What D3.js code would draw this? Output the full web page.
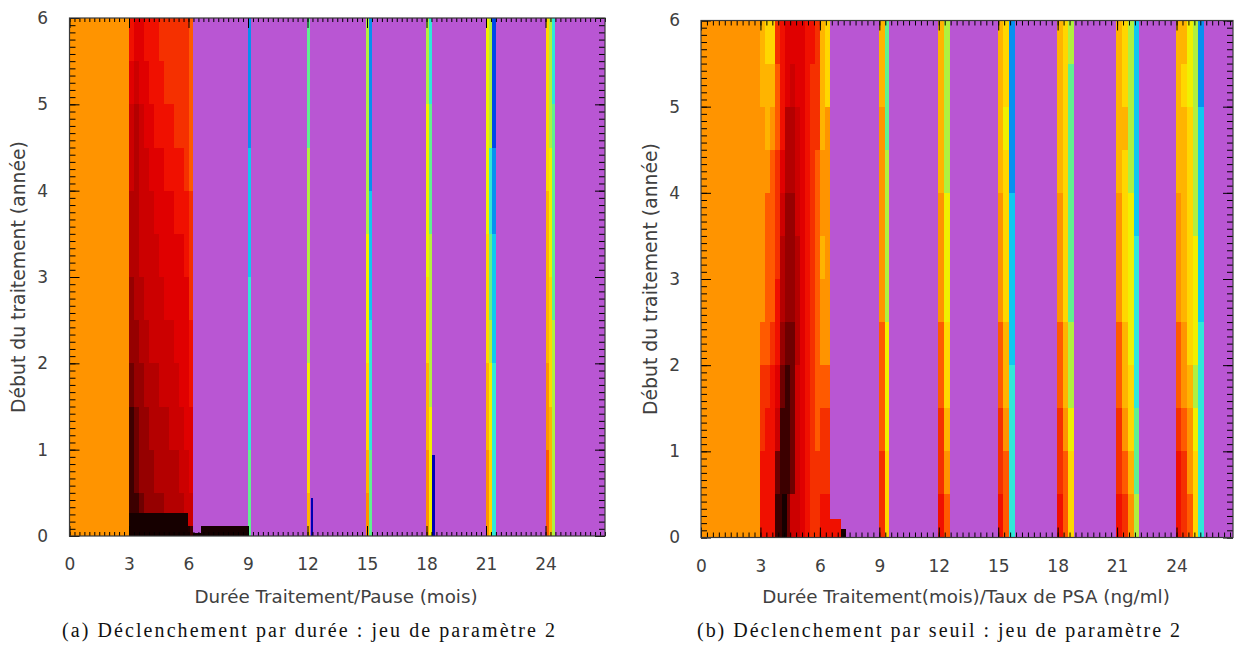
<!DOCTYPE html>
<html><head><meta charset="utf-8">
<script src="https://cdn.jsdelivr.net/npm/d3@7"></script>
<style>body{margin:0;background:#fff}svg{display:block}</style>
</head><body>
<svg id="chart" width="1234" height="648"></svg>
<script>
// ---------- colour levels (index = value level) ----------
const levelColors = ["#160000","#3c0000","#6e0000","#960000","#b40000","#cc0000","#e00000","#f01000","#f53000","#ff5a00","#ff9400","#ffb400","#ffd700","#f0f000","#b0f040","#60f090","#30e8d8","#10c8f0","#0890f0","#0048e8","#0000b4"];
const emptyColor = "#b956d3";

// ---------- ticks ----------
const xMajorTicks = [0,3,6,9,12,15,18,21,24];
const yMajorTicks = [0,1,2,3,4,5,6];

// ---------- texts ----------
const yTitle = "Début du traitement (année)";
const xTitleA = "Durée Traitement/Pause (mois)";
const xTitleB = "Durée Traitement(mois)/Taux de PSA (ng/ml)";
const captionA = "(a) Déclenchement par durée : jeu de paramètre 2";
const captionB = "(b) Déclenchement par seuil : jeu de paramètre 2";

// ---------- panel (a) data : values listed from top (6 ans) to bottom (0) ----------
const leftOrange = {x0:0, x1:3, values:[10]};
const leftRedStart = 3, leftRedStep = 0.25;
const leftRedRows = [
  [7,6,6,7,7,7,8,8,8,8,8,8,9],
  [6,5,6,6,7,7,7,8,8,8,8,8,9],
  [5,4,5,6,6,7,7,7,7,8,8,8,9],
  [5,4,5,5,6,6,6,7,7,7,7,8,9],
  [4,4,5,5,5,6,6,6,6,7,7,7,8],
  [4,4,5,5,5,5,6,6,6,6,6,7,8],
  [3,4,4,5,5,5,5,6,6,6,6,6,8],
  [3,3,4,4,5,5,5,5,5,6,6,6,7],
  [2,3,3,4,4,4,5,5,5,5,6,6,7],
  [1,2,3,3,4,4,4,4,5,5,5,6,6],
  [1,2,3,3,3,4,4,4,4,4,5,5,6],
  [1,1,2,3,3,3,3,4,4,4,4,5,5]
];
const leftStripes = [
  {x0:9.0,  x1:9.15,  values:[18,18,18,17,17,17,16,16,16,16,15,15]},
  {x0:11.98,x1:12.15, values:[15,15,15,14,14,14,14,14,13,13,12,11]},
  {x0:14.95,x1:15.1,  values:[14,14,14,14,14,13,13,13,12,12,11,10]},
  {x0:15.1, x1:15.27, values:[18,18,18,18,17,17,17,16,16,16,15,15]},
  {x0:17.96,x1:18.13, values:[14,14,13,13,13,13,12,12,11,11,10,10]},
  {x0:18.13,x1:18.3,  values:[16,16,15,15,15,14,14,14,14,13,13,13]},
  {x0:20.98,x1:21.15, values:[13,13,13,13,13,12,12,12,11,11,10,10]},
  {x0:21.15,x1:21.32, values:[14,14,14,16,16,15,15,14,13,13,12,12]},
  {x0:21.32,x1:21.48, values:[19,19,19,18,18,17,17,17,16,16,16,16]},
  {x0:24.0, x1:24.17, values:[12,12,12,12,11,11,11,11,10,10,9,9]},
  {x0:24.17,x1:24.33, values:[14,14,14,13,13,13,12,12,12,11,11,11]},
  {x0:24.33,x1:24.5,  values:[16,16,15,15,15,15,15,14,14,14,14,14]}
];
// [x0, x1, y0, y1, level]
const leftPatches = [
  [3.0,5.95,0,0.27,0],
  [5.95,6.25,0,0.12,1],
  [6.25,6.63,0,0.03,0],
  [6.63,9.0,0,0.12,0],
  [12.17,12.27,0,0.44,20],
  [18.3,18.42,0,0.94,20]
];

// ---------- panel (b) data ----------
const rightOrange = {x0:0, x1:3, values:[10]};
const rightRedStart = 3, rightRedStep = 0.25;
const rightRedRows = [
  [11,12,12,8,7,6,6,6,6,7,7,8,11,12],
  [11,11,11,9,7,6,5,6,6,7,8,8,11,12],
  [10,11,10,9,7,4,4,5,6,7,8,8,11,10],
  [10,10,9,8,6,4,4,5,6,7,8,9,10,10],
  [10,9,9,8,5,3,3,5,6,7,8,9,10,10],
  [10,9,9,8,4,3,3,4,6,7,8,9,11,10],
  [10,9,9,7,4,3,3,4,6,7,8,9,10,10],
  [9,9,8,7,3,2,2,4,6,7,8,9,10,10],
  [8,8,7,6,2,1,2,5,6,7,8,9,9,9],
  [8,7,7,5,1,1,2,5,6,7,8,9,8,8],
  [7,7,7,2,1,1,2,5,6,7,8,8,8,8],
  [7,7,7,1,1,2,5,5,6,7,8,8,7,7]
];
const rightStripes = [
  {x0:9.0,  x1:9.28,  values:[11,11,10,10,10,10,10,9,9,9,8,8]},
  {x0:9.28, x1:9.5,   values:[15,15,15,14,14,14,14,13,13,13,12,12]},
  {x0:11.98,x1:12.26, values:[11,11,11,11,10,10,10,9,9,8,8,7]},
  {x0:12.26,x1:12.57, values:[14,14,14,14,13,13,13,12,12,11,10,9]},
  {x0:14.97,x1:15.26, values:[11,11,11,11,10,10,10,9,9,8,8,7]},
  {x0:15.26,x1:15.56, values:[12,12,13,12,12,12,12,11,11,10,9,9]},
  {x0:15.56,x1:15.84, values:[18,18,18,18,17,17,17,17,16,16,16,16]},
  {x0:17.95,x1:18.25, values:[11,11,11,11,10,10,10,9,9,8,8,7]},
  {x0:18.25,x1:18.53, values:[12,12,12,12,12,12,12,11,11,10,9,9]},
  {x0:18.53,x1:18.83, values:[14,15,15,15,15,15,15,14,14,13,12,12]},
  {x0:20.97,x1:21.26, values:[11,11,11,11,10,10,10,9,9,8,8,7]},
  {x0:21.26,x1:21.55, values:[12,12,11,12,12,12,12,11,11,10,9,8]},
  {x0:21.55,x1:21.83, values:[14,14,14,14,13,13,13,13,12,12,11,10]},
  {x0:21.83,x1:22.11, values:[17,17,17,17,17,16,16,16,16,15,15,14]},
  {x0:23.97,x1:24.25, values:[11,11,11,11,10,10,10,9,9,8,7,7]},
  {x0:24.25,x1:24.53, values:[11,12,11,11,11,11,11,10,10,9,8,8]},
  {x0:24.53,x1:24.81, values:[13,13,12,12,12,12,12,12,11,10,10,9]},
  {x0:24.81,x1:25.1,  values:[14,14,14,14,14,13,13,13,14,13,12,12]},
  {x0:25.1, x1:25.38, values:[18,18,17,17,17,17,17,16,16,16,16,16]}
];
const rightPatches = [
  [6.5,7.05,0,0.21,7],
  [7.05,7.3,0,0.1,0],
  [4.07,4.35,0,0.5,0]
];

// ---------- drawing ----------
const svg = d3.select("#chart");
const textColor = "#404040";
const sansFont = "'DejaVu Sans', sans-serif";

function matrixToColumns(rows, start, step){
  const nCols = rows[0].length;
  return d3.range(nCols).map(c => ({
    x0: start + c*step, x1: start + (c+1)*step,
    values: rows.map(r => r[c])
  }));
}

function drawPanel(cfg){
  const x = d3.scaleLinear().domain([0, cfg.xMax]).range([cfg.left, cfg.right]);
  const y = d3.scaleLinear().domain([0, 6]).range([cfg.bottom, cfg.top]);
  const g = svg.append("g");
  const cells = g.append("g").attr("shape-rendering","crispEdges");

  cells.append("rect")
    .attr("x", x(0)).attr("y", y(6))
    .attr("width", x(cfg.xMax)-x(0)).attr("height", y(0)-y(6))
    .attr("fill", emptyColor);

  const columns = [cfg.orange].concat(matrixToColumns(cfg.redRows, cfg.redStart, cfg.redStep), cfg.stripes);
  const rects = [];
  columns.forEach(col => {
    const n = col.values.length, h = 6/n;
    col.values.forEach((v, i) => {
      rects.push({x0: col.x0, x1: col.x1, y1: 6 - i*h, y0: 6 - (i+1)*h, v});
    });
  });
  cfg.patches.forEach(p => rects.push({x0:p[0], x1:p[1], y0:p[2], y1:p[3], v:p[4]}));

  cells.selectAll("rect.cell").data(rects).join("rect")
    .attr("class","cell")
    .attr("x", d => x(d.x0))
    .attr("y", d => y(d.y1))
    .attr("width", d => x(d.x1) - x(d.x0))
    .attr("height", d => y(d.y0) - y(d.y1))
    .attr("fill", d => levelColors[d.v]);

  // axes: ticks inward on all 4 sides
  function styleAxis(sel){
    sel.select(".domain").remove();
    sel.selectAll(".tick line").attr("stroke","#000").attr("stroke-width",1);
    sel.selectAll("text").attr("fill", textColor).attr("font-family", sansFont).attr("font-size", 17);
  }
  const xMinor = d3.range(0, cfg.xMax + 1e-6, cfg.xMinorStep);
  const yMinor = d3.range(0, 73).map(i => i/12);

  g.append("g").attr("transform", `translate(0,${cfg.bottom})`)
    .call(d3.axisBottom(x).tickValues(xMinor).tickSize(-cfg.xMinorLen).tickFormat("")).call(styleAxis);
  g.append("g").attr("transform", `translate(0,${cfg.top})`)
    .call(d3.axisTop(x).tickValues(xMinor).tickSize(-cfg.xMinorLen).tickFormat("")).call(styleAxis);
  g.append("g").attr("transform", `translate(0,${cfg.bottom})`)
    .call(d3.axisBottom(x).tickValues(xMajorTicks).tickSize(-10).tickPadding(22).tickFormat(d3.format("d"))).call(styleAxis);
  g.append("g").attr("transform", `translate(0,${cfg.top})`)
    .call(d3.axisTop(x).tickValues(xMajorTicks).tickSize(-10).tickFormat("")).call(styleAxis);

  g.append("g").attr("transform", `translate(${cfg.left},0)`)
    .call(d3.axisLeft(y).tickValues(yMinor).tickSize(-6).tickFormat("")).call(styleAxis);
  g.append("g").attr("transform", `translate(${cfg.right},0)`)
    .call(d3.axisRight(y).tickValues(yMinor).tickSize(-6).tickFormat("")).call(styleAxis);
  g.append("g").attr("transform", `translate(${cfg.left},0)`)
    .call(d3.axisLeft(y).tickValues(yMajorTicks).tickSize(-10).tickPadding(cfg.left - cfg.yLabelEnd).tickFormat(d3.format("d"))).call(styleAxis);
  g.append("g").attr("transform", `translate(${cfg.right},0)`)
    .call(d3.axisRight(y).tickValues(yMajorTicks).tickSize(-10).tickFormat("")).call(styleAxis);

  g.append("rect")
    .attr("x", x(0)).attr("y", y(6))
    .attr("width", x(cfg.xMax)-x(0)).attr("height", y(0)-y(6))
    .attr("fill","none").attr("stroke","#3a3a3a").attr("stroke-width",1.2);

  // titles
  g.append("text")
    .attr("x", cfg.xTitleX).attr("y", 603)
    .attr("text-anchor","middle").attr("fill", textColor)
    .attr("font-family", sansFont).attr("font-size", 18.3)
    .text(cfg.xTitle);
  g.append("text")
    .attr("transform", `translate(${cfg.yTitleX},${(cfg.top+cfg.bottom)/2}) rotate(-90)`)
    .attr("text-anchor","middle").attr("fill", textColor)
    .attr("font-family", sansFont).attr("font-size", 18.8)
    .text(yTitle);
  g.append("text")
    .attr("x", cfg.capX).attr("y", 637)
    .attr("fill","#111")
    .attr("font-family","'Liberation Serif','DejaVu Serif',serif").attr("font-size", 20)
    .attr("textLength", cfg.capLen).attr("lengthAdjust","spacing")
    .text(cfg.caption);
}

drawPanel({
  left:69.5, right:605, top:18, bottom:536, xMax:27, xMinorStep:0.25, xMinorLen:4,
  yLabelEnd:48, orange:leftOrange, redRows:leftRedRows, redStart:leftRedStart, redStep:leftRedStep,
  stripes:leftStripes, patches:leftPatches,
  xTitle:xTitleA, xTitleX:336, yTitleX:25, caption:captionA, capX:62, capLen:493
});
drawPanel({
  left:701, right:1233, top:20.5, bottom:537.5, xMax:26.85, xMinorStep:0.3, xMinorLen:5,
  yLabelEnd:680, orange:rightOrange, redRows:rightRedRows, redStart:rightRedStart, redStep:rightRedStep,
  stripes:rightStripes, patches:rightPatches,
  xTitle:xTitleB, xTitleX:966, yTitleX:657, caption:captionB, capX:697, capLen:483
});
</script>
</body></html>
